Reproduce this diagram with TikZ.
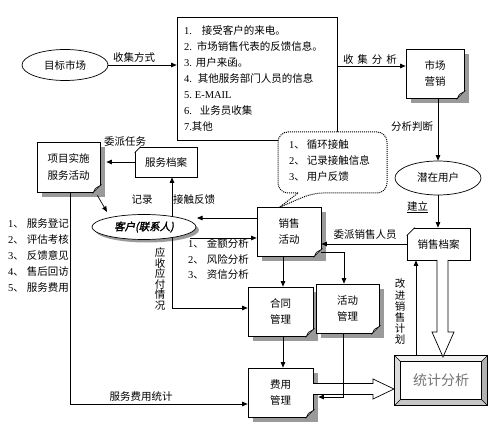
\documentclass[tikz,border=0pt]{standalone}
\usepackage{fontspec}
\setmainfont{Liberation Serif}
\newfontfamily\cjk[AutoFakeBold=2,AutoFakeSlant=0.2]{Noto Sans CJK SC}
\usetikzlibrary{arrows.meta,calc,shapes.geometric,shadows}
\definecolor{shadowgray}{HTML}{9A9A9A}
\newcommand\dg[1]{{\rmfamily #1}}
\newcommand\dogear[1]{%
  \fill[shadowgray] ($(#1.south east)+(-7,0.6)$) -- ($(#1.south east)+(0.6,0.6)$) -- ($(#1.south east)+(0.6,-7)$) -- cycle;
  \filldraw[fill=gray!25, line width=.5pt] ($(#1.south east)+(-7,0)$) -- ($(#1.south east)+(0,-7)$) -- ($(#1.south east)+(-5,-4)$) -- cycle;}
\newcommand\chamf[2]{%
  \fill[white] ($(#1.north west)+(-1,-1)$) -- ($(#1.north west)+(#2+1,-1)$) -- ($(#1.north west)+(-1,#2+1)$) -- cycle;
  \draw[line width=.7pt] ($(#1.north west)+(#2,0)$) -- ($(#1.north west)+(0,#2)$);}
\begin{document}
\begin{tikzpicture}[x=1pt,y=-1pt,
  every node/.style={font=\fontsize{10.5}{16.5}\selectfont\cjk, inner sep=0pt},
  ln/.style={line width=.7pt},
  arr/.style={ln, -{Triangle[length=5.5pt,width=4.5pt]}},
  box/.style={draw, line width=.7pt, fill=white, align=center},
  shbox/.style={box, drop shadow={shadow xshift=5pt, shadow yshift=-5pt, fill=shadowgray, opacity=1}},
  lst/.style={align=left, anchor=west}]
\useasboundingbox (0,0) rectangle (496,435);

% helper coordinates
\coordinate (h66) at (0,66);
\coordinate (v438) at (438,0);
\coordinate (h218) at (0,218);
\coordinate (h238) at (0,238);
\coordinate (v70) at (70,0);
\coordinate (h404) at (0,404);
\coordinate (h308) at (0,308);
\coordinate (v283) at (283,0);
\coordinate (h252) at (0,252);
\coordinate (v344) at (344,0);
\coordinate (v343) at (343,0);
\coordinate (h397) at (0,397);
\coordinate (v416) at (416,0);

% nodes
\node[box, ellipse, minimum width=86, minimum height=31] (mbsc) at (65,65) {目标市场};
\node[box, minimum width=160, minimum height=123, text width=146, align=left,
      font=\fontsize{10.5}{16}\selectfont\cjk] (info) at (257,78.5)
  {\dg{1.}\hspace{10pt}接受客户的来电。\\
   \dg{2.}\hspace{5pt}市场销售代表的反馈信息。\\
   \dg{3.}\hspace{4pt}用户来函。\\
   \dg{4.}\hspace{6pt}其他服务部门人员的信息\\
   \dg{5.\hspace{3pt}E-MAIL}\\
   \dg{6.}\hspace{8pt}业务员收集\\
   \dg{7.}其他};
\node[shbox, minimum width=58, minimum height=49] (scyx) at (435,73.5) {市场\\营销};
\node[box, ellipse, minimum width=86, minimum height=34] (qzyh) at (438,178) {潜在用户};
\node[box, minimum width=63, minimum height=32] (xsda) at (438.5,244) {销售档案};
\node[box, minimum width=62, minimum height=30] (fwda) at (166,162) {服务档案};
\node[shbox, minimum width=63, minimum height=50] (xmss) at (68.5,167) {项目实施\\服务活动};
\node[box, ellipse, minimum width=104, minimum height=25,
      drop shadow={shadow xshift=3pt, shadow yshift=-3pt, fill=shadowgray, opacity=1},
      font=\fontsize{10.5}{12}\selectfont\cjk\bfseries\itshape] (kh) at (144,227) {客户(联系人)};

% callout
\draw[densely dotted, line width=1pt, fill=white] (298,193) [rounded corners=10] -- (278,193) -- (278,132) -- (387,132) -- (387,193) -- (313,193) [sharp corners] -- (280,207) -- cycle;
\node[lst, font=\fontsize{10.5}{16}\selectfont\cjk] (cl) at (289,161)
  {\dg{1}、\hspace{2pt}循环接触\\\dg{2}、\hspace{2pt}记录接触信息\\\dg{3}、\hspace{2pt}用户反馈};

\node[shbox, minimum width=64, minimum height=49] (xshd) at (289,231.5) {销售\\活动};
\node[shbox, minimum width=65, minimum height=49] (htgl) at (280.5,311.5) {合同\\管理};
\node[shbox, minimum width=63, minimum height=49] (hdgl) at (347.5,308.5) {活动\\管理};
\node[shbox, minimum width=65, minimum height=49] (fygl) at (280.5,392.5) {费用\\管理};
\foreach \n in {scyx,xmss,xshd,htgl,hdgl,fygl} {\dogear{\n}}
\chamf{fwda}{6}
\chamf{xsda}{8}

% statistics frame
\node[minimum width=92, minimum height=49, font=\fontsize{14}{16}\selectfont\cjk, text=black!55] (tjfx) at (441,380.5) {统计分析};
\fill[gray!12] (tjfx.north west) -- (tjfx.north east) -- ($(tjfx.north east)+(-6,6)$) -- ($(tjfx.north west)+(6,6)$) -- cycle;
\fill[gray!28] (tjfx.north west) -- ($(tjfx.north west)+(6,6)$) -- ($(tjfx.south west)+(6,-6)$) -- (tjfx.south west) -- cycle;
\fill[gray!60] (tjfx.north east) -- (tjfx.south east) -- ($(tjfx.south east)+(-6,-6)$) -- ($(tjfx.north east)+(-6,6)$) -- cycle;
\fill[gray!45] (tjfx.south west) -- (tjfx.south east) -- ($(tjfx.south east)+(-6,-6)$) -- ($(tjfx.south west)+(6,-6)$) -- cycle;
\draw[ln] (tjfx.north west) rectangle (tjfx.south east);
\draw[ln] ($(tjfx.north west)+(6,6)$) rectangle ($(tjfx.south east)+(-6,-6)$);
\foreach \c in {north west, north east, south east, south west} {}
\draw[line width=.4pt] (tjfx.north west) -- ($(tjfx.north west)+(6,6)$)
  (tjfx.north east) -- ($(tjfx.north east)+(-6,6)$)
  (tjfx.south east) -- ($(tjfx.south east)+(-6,-6)$)
  (tjfx.south west) -- ($(tjfx.south west)+(6,-6)$);

% connectors
\draw[arr] (mbsc.east) -- (mbsc.east -| info.west);
\node at (134,57) {收集方式};
\draw[arr] (info.east |- h66) -- (scyx.west |- h66);
\node at (370,60) {收\hspace{4pt}集\hspace{4pt}分\hspace{4pt}析};
\draw[arr] (scyx.south -| v438) -- (qzyh.north);
\node at (412,127) {分析判断};
\draw[arr] (qzyh.south) -- (qzyh.south |- xsda.north);
\node at (417.5,207) {\underline{建立}};
\draw[arr] (xsda.west) -- (xsda.west -| xshd.east);
\node at (365,235) {委派销售人员};

\coordinate (khr) at (197,218);
\draw[arr] (xshd.west |- h218) -- (khr);
\draw[arr] ($(kh.east |- h238)+(-6,0)$) -- (xshd.west |- h238);
\node[lst, font=\fontsize{10.5}{15.5}\selectfont\cjk] (fxlist) at (188,259)
  {\dg{1}、\hspace{3pt}金额分析\\\dg{2}、\hspace{3pt}风险分析\\\dg{3}、\hspace{3pt}资信分析};

\path (kh.center) ++(28,-10.5) coordinate (khtop);
\draw[arr] (khtop) -- (khtop |- fwda.south);
\node at (142,200) {记录};
\node at (194,200) {接触反馈};

\draw[arr] ($(xmss.south east)+(-3,3)$) -- ($(kh.north west)+(0,-6)$);
\draw[arr, shorten >=6pt] (fwda.west) -- (fwda.west -| xmss.east);
\node at (125,142) {委派任务};

\draw[arr] (xmss.south -| v70) |- (fygl.west |- h404);
\node at (141,397) {服务费用统计};
\node[lst, font=\fontsize{10.5}{16}\selectfont\cjk] (fwlist) at (8,256)
  {\dg{1}、\hspace{3pt}服务登记\\\dg{2}、\hspace{3pt}评估考核\\\dg{3}、\hspace{3pt}反馈意见\\\dg{4}、\hspace{3pt}售后回访\\\dg{5}、\hspace{3pt}服务费用};

\path (kh.center) ++(28,10.5) coordinate (khbot);
\draw[arr] (khbot) |- (htgl.west |- h308);
\node[align=center, font=\fontsize{10.5}{10.6}\selectfont\cjk] (ysyf) at (160,279) {应\\收\\应\\付\\情\\况};

\draw[arr] (xshd.south -| v283) -- (htgl.north -| v283);
\draw[arr] (xshd.east |- h252) -| (hdgl.north -| v344);
\draw[arr] (htgl.south -| v283) -- (fygl.north -| v283);

% hollow arrows
\draw[ln, fill=white] (313,383.5) -- (373,383.5) -- (373,379) -- (394,389) -- (373,399) -- (373,394.5) -- (313,394.5);
\draw[arr] (hdgl.south -| v343) |- ($(fygl.east |- h397)+(5,0)$);
\draw[ln, fill=white] (437,260) -- (437,332) -- (432,332) -- (443,357) -- (454,332) -- (448,332) -- (448,260);

\draw[arr] (tjfx.north -| v416) -- (xsda.south -| v416);
\node[align=center, font=\fontsize{10.5}{11.2}\selectfont\cjk] (gjjh) at (400,312) {改\\进\\销\\售\\计\\划};
\end{tikzpicture}
\end{document}
